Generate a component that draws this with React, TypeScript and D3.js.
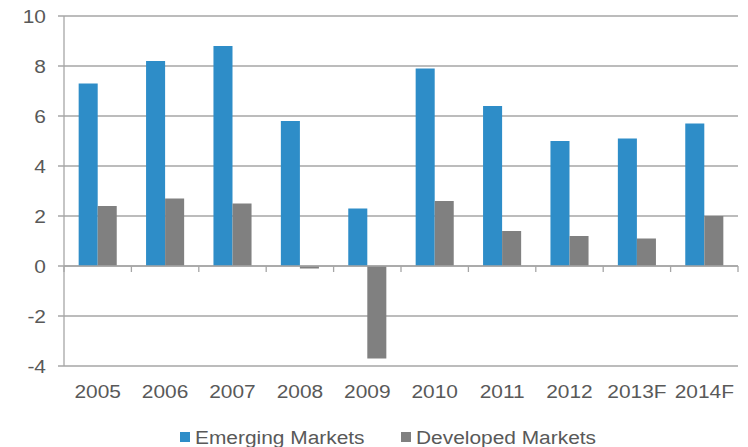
import React, { useEffect, useRef } from "react";
import * as d3 from "d3";

const years = ["2005", "2006", "2007", "2008", "2009", "2010", "2011", "2012", "2013F", "2014F"];
const emerging = [7.3, 8.2, 8.8, 5.8, 2.3, 7.9, 6.4, 5.0, 5.1, 5.7];
const developed = [2.4, 2.7, 2.5, -0.1, -3.7, 2.6, 1.4, 1.2, 1.1, 2.0];
const yTicks = [-4, -2, 0, 2, 4, 6, 8, 10];
const seriesNames = ["Emerging Markets", "Developed Markets"];
const seriesColors = ["#2E8DC8", "#808080"];

const W = 748;
const H = 447;
const margin = { top: 16, right: 10, bottom: 81, left: 64 };

const App = () => {
  const ref = useRef<SVGSVGElement>(null);

  useEffect(() => {
    const svg = d3.select(ref.current);
    svg.selectAll("*").remove();

    const innerW = W - margin.left - margin.right;
    const innerH = H - margin.top - margin.bottom;
    const font = "'Liberation Sans', Arial, sans-serif";
    const textColor = "#595959";
    const gridColor = "#A6A6A6";
    // the reference text is a bit wider than it is tall
    const stretch = 1.1;

    const g = svg.append("g").attr("transform", `translate(${margin.left},${margin.top})`);

    const x = d3.scaleBand().domain(years).range([0, innerW]).paddingInner(0).paddingOuter(0);
    const x1 = d3
      .scaleBand()
      .domain(seriesNames)
      .range([0, x.bandwidth()])
      .paddingOuter(0.77)
      .paddingInner(0);
    const y = d3.scaleLinear().domain([-4, 10]).range([innerH, 0]);

    // gridlines
    g.selectAll(".grid")
      .data(yTicks)
      .enter()
      .append("line")
      .attr("x1", -6)
      .attr("x2", innerW)
      .attr("y1", (d) => y(d))
      .attr("y2", (d) => y(d))
      .attr("stroke", gridColor)
      .attr("stroke-width", 1.3);

    // y labels
    g.selectAll(".ylab")
      .data(yTicks)
      .enter()
      .append("text")
      .attr("transform", (d) => `translate(-18,${y(d)}) scale(${stretch},1)`)
      .attr("dy", "0.35em")
      .attr("text-anchor", "end")
      .attr("font-family", font)
      .attr("font-size", 19)
      .attr("fill", textColor)
      .text((d) => d);

    // bars
    const data = [emerging, developed];
    data.forEach((vals, si) => {
      g.selectAll(`.bar${si}`)
        .data(vals)
        .enter()
        .append("rect")
        .attr("x", (d, i) => (x(years[i]) as number) + (x1(seriesNames[si]) as number))
        .attr("width", x1.bandwidth())
        .attr("y", (d) => y(Math.max(0, d)))
        .attr("height", (d) => Math.abs(y(d) - y(0)))
        .attr("fill", seriesColors[si]);
    });

    // zero axis and ticks
    g.append("line")
      .attr("x1", 0)
      .attr("x2", innerW)
      .attr("y1", y(0))
      .attr("y2", y(0))
      .attr("stroke", gridColor)
      .attr("stroke-width", 1.3);
    const bounds = years.map((yr) => x(yr) as number).concat([innerW]);
    g.selectAll(".xtick")
      .data(bounds)
      .enter()
      .append("line")
      .attr("x1", (d) => d)
      .attr("x2", (d) => d)
      .attr("y1", y(0))
      .attr("y2", y(0) + 6)
      .attr("stroke", gridColor)
      .attr("stroke-width", 1.3);

    // y axis line
    g.append("line")
      .attr("x1", 0)
      .attr("x2", 0)
      .attr("y1", 0)
      .attr("y2", innerH)
      .attr("stroke", gridColor)
      .attr("stroke-width", 1.3);

    // x labels
    g.selectAll(".xlab")
      .data(years)
      .enter()
      .append("text")
      .attr(
        "transform",
        (d) => `translate(${(x(d) as number) + x.bandwidth() / 2},${innerH + 32}) scale(${stretch},1)`
      )
      .attr("text-anchor", "middle")
      .attr("font-family", font)
      .attr("font-size", 19)
      .attr("fill", textColor)
      .text((d) => d);

    // legend
    const legendX = [180, 401];
    seriesNames.forEach((name, i) => {
      svg
        .append("rect")
        .attr("x", legendX[i])
        .attr("y", 432)
        .attr("width", 10)
        .attr("height", 10)
        .attr("fill", seriesColors[i]);
      svg
        .append("text")
        .attr("transform", `translate(${legendX[i] + 15},444) scale(${stretch},1)`)
        .attr("font-family", font)
        .attr("font-size", 19)
        .attr("fill", textColor)
        .text(name);
    });
  }, []);

  return (
    <svg
      ref={ref}
      width={W}
      height={H}
      style={{ position: "absolute", left: 0, top: 0, background: "#fff" }}
    />
  );
};

export default App;
